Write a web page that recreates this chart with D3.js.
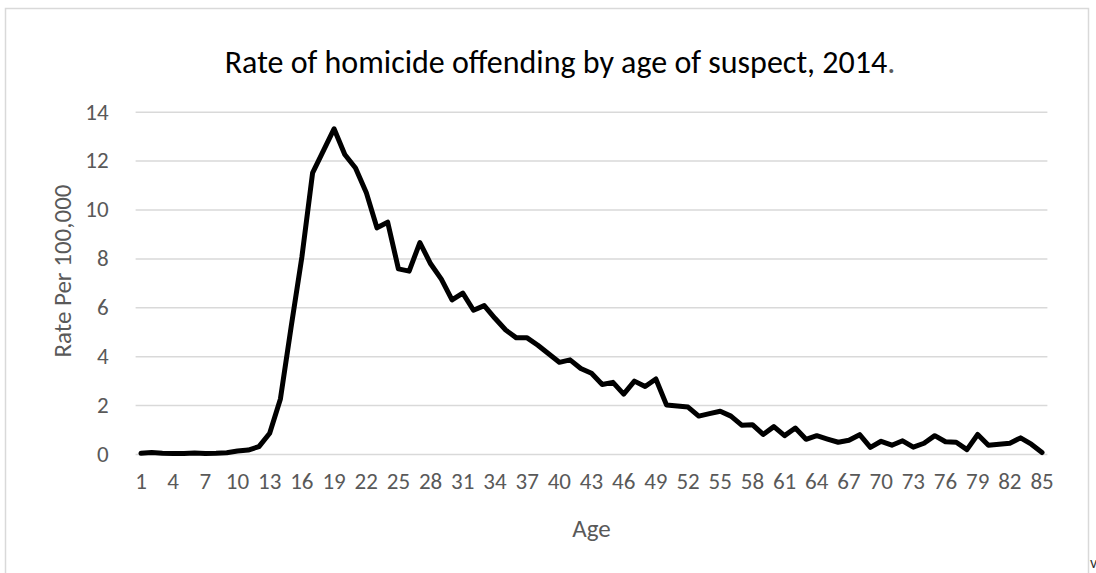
<!DOCTYPE html>
<html>
<head>
<meta charset="utf-8">
<script src="https://cdn.jsdelivr.net/npm/d3@7"></script>
<style>
  body { margin: 0; background: #fff; }
  svg { display: block; font-family: Carlito, Calibri, Lato, sans-serif; }
</style>
</head>
<body>
<script>
// chart data
const ages = [1, 2, 3, 4, 5, 6, 7, 8, 9, 10, 11, 12, 13, 14, 15, 16, 17, 18, 19, 20,
  21, 22, 23, 24, 25, 26, 27, 28, 29, 30, 31, 32, 33, 34, 35, 36, 37, 38, 39, 40,
  41, 42, 43, 44, 45, 46, 47, 48, 49, 50, 51, 52, 53, 54, 55, 56, 57, 58, 59, 60,
  61, 62, 63, 64, 65, 66, 67, 68, 69, 70, 71, 72, 73, 74, 75, 76, 77, 78, 79, 80,
  81, 82, 83, 84, 85]
const rates = [0.03, 0.06, 0.03, 0.02, 0.02, 0.04, 0.02, 0.03, 0.05, 0.12,
  0.16, 0.3, 0.85, 2.25, 5.2, 8.05, 11.5, 12.4, 13.3, 12.25,
  11.7, 10.7, 9.25, 9.48, 7.57, 7.48, 8.65, 7.78, 7.15, 6.3,
  6.58, 5.88, 6.07, 5.55, 5.07, 4.75, 4.75, 4.45, 4.1, 3.75,
  3.85, 3.5, 3.3, 2.84, 2.93, 2.45, 2.98, 2.76, 3.07, 2.0,
  1.96, 1.92, 1.55, 1.65, 1.75, 1.55, 1.18, 1.2, 0.8, 1.12,
  0.75, 1.06, 0.6, 0.75, 0.61, 0.48, 0.56, 0.79, 0.27, 0.52,
  0.36, 0.54, 0.28, 0.44, 0.75, 0.5, 0.48, 0.18, 0.8, 0.36,
  0.4, 0.44, 0.66, 0.4, 0.06]
const xTickLabels = [1, 4, 7, 10, 13, 16, 19, 22, 25, 28, 31, 34, 37, 40, 43,
  46, 49, 52, 55, 58, 61, 64, 67, 70, 73, 76, 79, 82, 85]
const yTickLabels = [0, 2, 4, 6, 8, 10, 12, 14]

const width = 1096
const height = 573
const margin = {top: 111.7, right: 48.6, bottom: 119, left: 135.6}
const innerwidth = width - margin.left - margin.right
const innerheight = height - margin.top - margin.bottom
const labelColor = '#595959'
const fontStack = 'Carlito, Calibri, Lato, sans-serif'

const svg = d3.select('body').append('svg')
    .attr('width', width)
    .attr('height', height)

// chart border (bottom runs off the page)
svg.append('rect')
    .attr('x', 5.5).attr('y', 8.5)
    .attr('width', 1083).attr('height', 600)
    .attr('fill', 'none')
    .attr('stroke', '#d9d9d9')
    .attr('stroke-width', 1.5)

const g = svg.append('g')
    .attr('transform', `translate(${margin.left},${margin.top})`)

// scales
const xScale = d3.scaleBand()
    .domain(ages)
    .range([0, innerwidth])
const xPos = d => xScale(d) + xScale.bandwidth() / 2

const yScale = d3.scaleLinear()
    .domain([0, 14])
    .range([innerheight, 0])

// gridlines
const gridG = g.append('g')
    .call(d3.axisLeft(yScale).tickValues(yTickLabels).tickSize(-innerwidth).tickFormat(''))
gridG.select('.domain').remove()
gridG.selectAll('.tick line')
    .attr('stroke', '#d9d9d9')
    .attr('stroke-width', 1.5)

// y axis
const yAxisG = g.append('g')
    .call(d3.axisLeft(yScale).tickValues(yTickLabels).tickSize(0).tickPadding(27))
yAxisG.selectAll('.domain').remove()
yAxisG.selectAll('text')
    .attr('fill', labelColor)
    .style('font-size', '23px')
    .style('font-family', fontStack)

// x axis
const xAxisG = g.append('g')
    .attr('transform', `translate(0,${innerheight})`)
    .call(d3.axisBottom(xScale).tickValues(xTickLabels).tickSize(0).tickPadding(19))
xAxisG.selectAll('.domain').remove()
xAxisG.selectAll('text')
    .attr('fill', labelColor)
    .style('font-size', '23px')
    .style('font-family', fontStack)

// axis titles
svg.append('text')
    .attr('transform', 'translate(71,271) rotate(-90)')
    .attr('text-anchor', 'middle')
    .attr('fill', labelColor)
    .style('font-size', '25px')
    .text('Rate Per 100,000')

svg.append('text')
    .attr('x', margin.left + innerwidth / 2)
    .attr('y', 537)
    .attr('text-anchor', 'middle')
    .attr('fill', labelColor)
    .style('font-size', '25px')
    .text('Age')

// title
const title = svg.append('text')
    .attr('x', 560)
    .attr('y', 73)
    .attr('text-anchor', 'middle')
    .attr('fill', '#000')
    .style('font-size', '32px')
title.append('tspan').text('Rate of homicide offending by age of suspect, 2014')
title.append('tspan').attr('fill', labelColor).text('.')

// the line
const line = d3.line()
    .x((d, i) => xPos(ages[i]))
    .y(d => yScale(d))

g.append('path')
    .datum(rates)
    .attr('d', line)
    .attr('fill', 'none')
    .attr('stroke', '#000')
    .attr('stroke-width', 5)
    .attr('stroke-linejoin', 'round')
    .attr('stroke-linecap', 'round')

// stray clipped character at the corner
svg.append('text')
    .attr('x', 1090)
    .attr('y', 568)
    .attr('fill', '#333')
    .style('font-size', '16px')
    .text('v')
</script>
</body>
</html>
